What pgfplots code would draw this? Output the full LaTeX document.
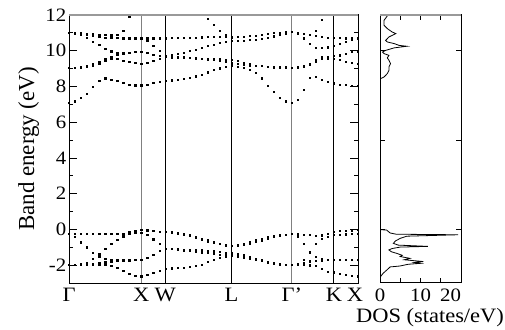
\documentclass[border=0pt]{standalone}
\usepackage{pgfplots}
\pgfplotsset{compat=1.18}
\usepackage{pgfplotstable}
\usepackage{fontspec}
\setmainfont{Liberation Serif}[FakeStretch=1.1]
\newfontfamily\yfamily{Liberation Serif}
\newcommand\tfont{\fontsize{19}{19}\selectfont}
\newcommand\kfont{\fontsize{20.5}{20.5}\selectfont}
\newcommand\dfont{\fontsize{20.5}{20.5}\selectfont}
\newcommand\yfont{\yfamily\fontsize{23}{23}\selectfont}

\pgfplotstableread{
x v1 v2 v3 v4 v5 v6 c1 c2 c3 c4 c5 c6
0 -0.26 -0.26 -1.99 -1.99 nan -1.99 7.10 9.04 9.04 11.03 11.03 11.03
6 -0.26 -0.42 -1.98 -1.99 nan -1.99 7.17 9.05 9.04 10.98 11.00 11.02
12 -0.26 -0.72 -1.95 -1.99 nan -1.98 7.36 9.08 9.06 10.88 10.95 11.00
18 -0.26 -1.00 -1.85 -1.99 nan -1.96 7.60 9.15 9.10 10.72 10.88 10.97
24 -0.26 -1.30 -1.65 -1.99 nan -1.92 7.97 9.25 9.18 10.52 10.82 10.94
30 -0.26 -1.50 -1.38 -1.99 nan -1.88 8.31 9.40 9.30 10.32 10.78 10.90
36 -0.26 -1.65 -1.10 -1.99 nan -1.84 8.46 9.55 9.45 10.12 10.75 10.88
42 -0.26 -1.70 -0.82 -2.02 nan -1.80 8.40 9.68 9.58 9.97 10.72 10.87
48 -0.25 -1.72 -0.57 -2.15 nan -1.76 8.31 9.78 9.55 9.90 10.71 10.90
54 -0.22 -1.72 -0.38 -2.32 nan -1.74 8.20 9.85 9.45 9.88 10.70 11.14
60 -0.15 -1.72 -0.26 -2.47 nan -1.72 8.12 9.90 9.38 9.90 10.70 11.90
66 -0.07 -1.71 -0.20 -2.57 nan -1.71 8.07 9.93 9.32 9.93 10.70 nan
72 -0.03 -1.71 -0.18 -2.62 nan -1.71 8.07 9.95 9.28 9.95 10.70 nan
78 -0.05 -1.60 -0.30 -2.55 nan nan 8.10 10.58 9.35 9.88 10.70 nan
84 -0.08 -1.40 -0.55 -2.42 nan nan 8.20 10.30 9.45 9.80 10.70 nan
90 -0.11 -1.20 -0.82 -2.30 nan nan 8.28 10.00 9.55 9.72 10.70 nan
96 -0.15 -1.06 -1.06 -2.18 -0.15 nan 8.34 9.72 9.65 9.66 10.70 nan
102 -0.16 -1.10 -1.08 -2.17 -0.18 nan 8.35 9.75 9.68 9.62 10.72 nan
108 -0.18 -1.13 -1.10 -2.15 -0.22 nan 8.38 9.82 9.67 9.62 10.72 nan
114 -0.23 -1.16 -1.12 -2.13 -0.28 nan 8.43 9.90 9.66 9.61 10.73 nan
120 -0.30 -1.20 -1.12 -2.10 -0.36 nan 8.50 10.00 9.63 9.60 10.74 nan
126 -0.41 -1.24 -1.13 -2.05 -0.46 nan 8.58 10.08 9.60 9.58 10.75 nan
132 -0.50 -1.28 -1.15 -1.96 -0.56 nan 8.68 10.17 9.57 9.56 10.76 nan
138 -0.59 -1.32 -1.18 -1.82 -0.66 nan 8.80 10.26 9.53 9.55 10.78 11.81
144 -0.69 -1.36 -1.22 -1.68 -0.75 nan 8.92 10.35 9.48 9.54 10.80 11.44
150 -0.79 -1.40 -1.26 -1.58 -0.82 nan 9.02 10.43 9.43 9.53 10.80 11.12
156 -0.87 -1.42 -1.30 -1.52 -0.88 nan 9.10 10.50 9.37 9.52 10.78 10.90
162 -0.91 -1.43 -1.33 -1.45 -0.91 nan 9.15 10.55 9.30 9.50 10.75 10.80
168 -0.87 -1.36 nan -1.50 -0.90 nan 9.12 10.58 9.28 9.45 10.77 nan
174 -0.79 -1.43 nan -1.56 -0.85 nan 9.05 10.58 9.22 9.35 10.79 nan
180 -0.70 -1.52 nan -1.63 -0.78 nan 8.95 10.60 9.19 9.25 10.83 nan
186 -0.60 -1.62 nan -1.70 -0.70 nan 8.76 10.63 9.18 9.18 10.86 nan
192 -0.51 -1.71 nan -1.77 -0.60 nan 8.46 10.68 9.14 9.14 10.90 nan
198 -0.43 -1.80 nan -1.84 -0.50 nan 8.05 10.74 9.12 9.10 10.95 nan
204 -0.37 -1.88 nan -1.90 -0.42 nan 7.72 10.81 9.10 9.08 10.99 nan
210 -0.31 -1.93 nan -1.95 -0.35 nan 7.38 10.88 9.09 9.06 11.01 nan
216 -0.28 -1.97 nan -1.98 -0.29 nan 7.17 10.98 9.08 9.05 11.04 nan
222 -0.26 -1.99 -0.26 -1.99 -0.26 -1.99 7.10 11.07 9.05 9.04 11.07 nan
228 -0.28 -1.95 -0.40 -1.99 -0.27 -1.94 7.28 10.95 9.08 9.05 11.01 nan
234 -0.31 -1.70 -0.78 -1.99 -0.29 -1.85 7.84 10.70 9.14 9.10 10.96 nan
240 -0.31 -1.30 -1.25 -2.00 nan -1.78 8.48 10.40 9.28 9.20 10.90 nan
246 -0.35 -0.82 -1.55 -2.05 nan -1.75 8.53 10.18 9.50 9.40 10.83 11.10
252 -0.33 -0.50 -1.65 -2.18 nan -1.72 8.40 10.15 9.65 9.56 10.77 11.72
258 -0.26 -0.41 -1.68 -2.37 nan -1.69 8.28 10.20 9.68 9.56 10.71 nan
264 -0.15 -0.31 -1.68 -2.40 nan -1.68 8.18 10.28 9.70 9.56 10.71 nan
270 -0.08 -0.30 -1.70 -2.46 nan -1.69 8.12 10.40 9.50 9.75 10.71 nan
276 -0.06 -0.27 -1.70 -2.55 nan -1.70 8.08 10.52 9.38 9.85 10.70 nan
282 -0.04 -0.24 -1.71 -2.61 nan -1.71 8.05 10.62 9.31 9.93 10.70 nan
288 -0.03 -0.22 -1.71 -2.62 nan -1.71 8.05 10.68 9.28 9.97 10.70 nan
}\bands

\pgfplotstableread{
dos e
1.8 11.95
1.0 11.70
1.0 11.42
1.8 11.24
3.0 11.05
3.9 10.96
2.2 10.77
1.4 10.58
1.8 10.49
3.5 10.40
4.7 10.30
6.6 10.25
3.5 10.16
1.4 10.02
0.6 9.93
1.0 9.84
2.2 9.74
1.8 9.60
2.2 9.47
2.6 9.28
2.2 9.09
2.2 8.90
1.8 8.72
1.0 8.53
0.15 8.44
0 8.25
0 7.10
}\dosc

\pgfplotstableread{
dos e
0 -0.02
1.6 -0.03
2.5 -0.20
4.0 -0.27
19.3 -0.30
6.6 -0.38
5.0 -0.50
3.8 -0.65
3.3 -0.78
4.5 -0.88
11.8 -0.95
5.0 -0.99
3.0 -1.07
2.2 -1.15
2.8 -1.25
4.1 -1.34
5.5 -1.45
5.0 -1.52
7.4 -1.62
6.0 -1.70
10.7 -1.80
8.5 -1.85
10.0 -1.90
7.0 -1.95
4.9 -2.05
2.5 -2.10
1.8 -2.25
0.8 -2.45
0 -2.68
}\dosv

\begin{document}
\begin{tikzpicture}
\useasboundingbox (0,0) rectangle (505bp,330bp);
\begin{axis}[
  at={(69bp,47bp)}, anchor=south west, scale only axis,
  width=289bp, height=268bp,
  xmin=0, xmax=288, ymin=-3, ymax=12,
  xtick={0,72,96,162,222,264,288},
  xticklabels={Γ,X,W,L,Γ',K,\makebox[0pt][r]{X\kern-5bp}},
  xtick style={draw=none},
  xticklabel style={font=\kfont, inner sep=0pt, yshift=-5bp},
  ytick={-2,0,2,4,6,8,10,12},
  minor ytick={-3,-1,1,3,5,7,9,11},
  ytick pos=both, yticklabel pos=left,
  tick align=inside,
  major tick length=8bp, minor tick length=4bp,
  tick style={black, line width=0.8bp},
  yticklabel style={font=\tfont, inner sep=2.5bp},
  /pgf/number format/assume math mode=true,
  axis line style={line width=1bp},
]
\pgfplotsinvokeforeach{v1,v2,v3,v4,v5,v6,c1,c2,c3,c4,c5,c6}{
  \addplot[only marks, mark=square*, mark size=0.6bp, black] table[x=x, y=#1] {\bands};
}
\draw[black!50, line width=1bp] (axis cs:72,-3) -- (axis cs:72,12);
\draw[black, line width=1.3bp] (axis cs:96,-3) -- (axis cs:96,12);
\draw[black, line width=1.3bp] (axis cs:162,-3) -- (axis cs:162,12);
\draw[black!50, line width=1bp] (axis cs:222,-3) -- (axis cs:222,12);
\draw[black, line width=1.1bp] (axis cs:264,-3) -- (axis cs:264,12);
\draw[black!40, line width=1.2bp] (rel axis cs:0,1) -- (rel axis cs:1,1);
\end{axis}

\begin{axis}[
  at={(380bp,47bp)}, anchor=south west, scale only axis,
  width=81bp, height=268bp,
  xmin=0, xmax=20, ymin=-3, ymax=12,
  xtick={0,10,20}, minor xtick={5,15},
  xticklabels={0,10,\makebox[0pt][r]{20}},
  ytick={0,5,10}, yticklabels={,,},
  xtick pos=both, ytick pos=both,
  tick align=inside,
  major tick length=5bp, minor tick length=5bp,
  tick style={black, line width=0.8bp},
  xticklabel style={font=\tfont, inner sep=0pt, yshift=-6bp},
  /pgf/number format/assume math mode=true,
  axis line style={line width=1bp},
]
\addplot[black, line width=0.8bp] table[x=dos, y=e] {\dosc};
\addplot[black, line width=0.8bp] table[x=dos, y=e] {\dosv};
\draw[black!40, line width=1.2bp] (rel axis cs:0,1) -- (rel axis cs:1,1);
\end{axis}

\node[font=\yfont, rotate=90, anchor=base] at (34bp,181bp) {Band energy (eV)};
\node[font=\dfont, anchor=base] at (430bp,8bp) {DOS (states/eV)};
\end{tikzpicture}
\end{document}
